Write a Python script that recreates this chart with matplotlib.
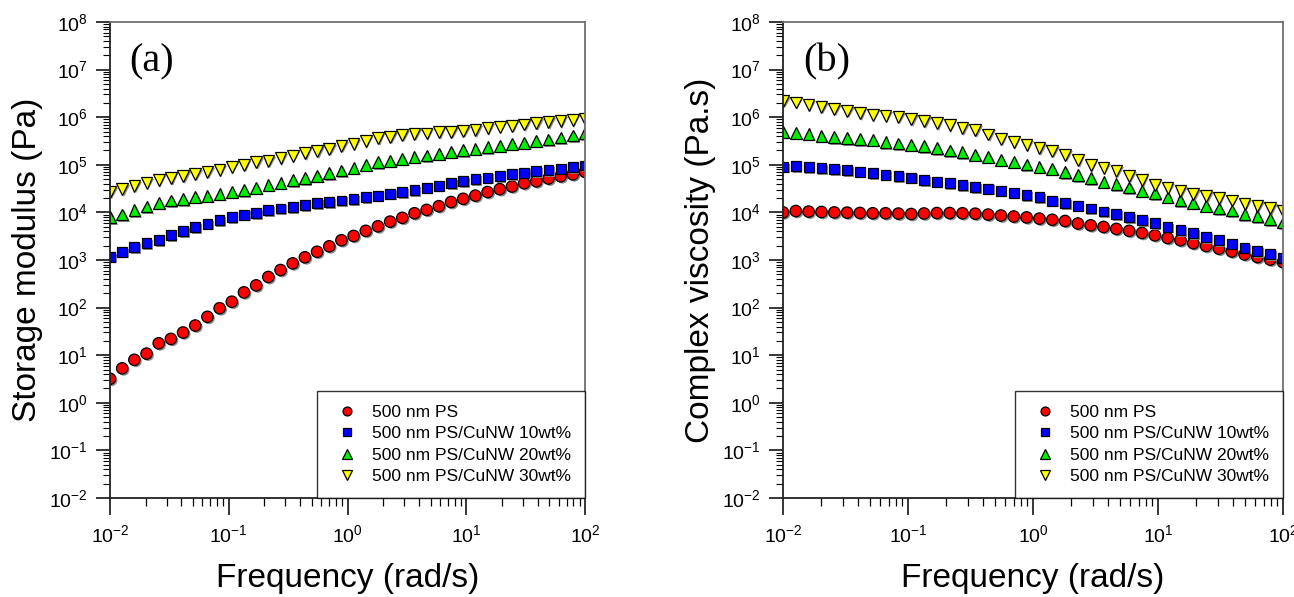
import numpy as np
import matplotlib
matplotlib.use("Agg")
import matplotlib.pyplot as plt
import matplotlib.patheffects as pe
from matplotlib.ticker import LogLocator, LogFormatterMathtext, NullFormatter

plt.rcParams['font.family'] = ['Liberation Sans', 'DejaVu Sans']
plt.rcParams['mathtext.default'] = 'regular'
plt.rcParams['axes.unicode_minus'] = False

# angular frequency (rad/s), 40 points from 0.01 to 100
freq = np.logspace(-2, 2, 40)

labels = ['500 nm PS', '500 nm PS/CuNW 10wt%', '500 nm PS/CuNW 20wt%', '500 nm PS/CuNW 30wt%']

# (a) storage modulus G' (Pa)
g_ps = [3.2, 5.3, 8.0, 10.8, 17.8, 22, 30, 42, 64, 97,
        133, 209, 293, 440, 616, 850, 1140, 1490, 1940, 2600,
        3200, 4100, 5100, 6400, 7700, 9600, 11300, 13500, 16500, 19300,
        22500, 26800, 30800, 35000, 41000, 45000, 51500, 57500, 63000, 71000]
g_10 = [1170, 1490, 1850, 2240, 2630, 3350, 4070, 4930, 5790, 6820,
        7940, 8950, 9570, 11070, 12000, 13000, 14100, 15500, 16300, 17800,
        19100, 20700, 22400, 24400, 26400, 29500, 32600, 36400, 40800, 45000,
        49500, 53600, 58200, 64100, 68300, 73000, 77700, 82800, 90000, 97000]
g_20 = [7900, 9100, 11200, 13200, 16000, 17900, 19000, 21100, 22400, 24400,
        27200, 29100, 33000, 37700, 42100, 47200, 52000, 59000, 66200, 76000,
        86900, 100500, 112800, 121900, 132400, 146000, 158000, 171000, 186000, 202000,
        218000, 233000, 252000, 274000, 291000, 320000, 340000, 375000, 410000, 465000]
g_30 = [27200, 31000, 36400, 42100, 47200, 52000, 57300, 65000, 71600, 78900,
        91200, 100500, 112800, 122000, 137000, 155000, 175000, 192000, 215000, 250000,
        274000, 316000, 360000, 389000, 423000, 444000, 458000, 481000, 495000, 513000,
        537000, 585000, 630000, 662000, 708000, 744000, 781000, 832000, 873000, 904000]

# (b) complex viscosity (Pa.s)
v_ps = [10000, 10700, 10400, 10200, 10000, 9900, 9750, 9600, 9600, 9450,
        9250, 9500, 9700, 9700, 9600, 9400, 9000, 8600, 8200, 7850,
        7400, 7000, 6600, 5850, 5350, 4950, 4500, 4100, 3700, 3300,
        2900, 2600, 2250, 1970, 1730, 1510, 1310, 1150, 1020, 900]
v_10 = [91200, 94400, 90000, 85700, 81700, 76600, 71600, 66200, 62000, 58200,
        53600, 47900, 44200, 40800, 37100, 34200, 31500, 28200, 25600, 22900,
        20800, 17600, 15500, 13800, 12000, 10500, 9100, 7900, 6820, 5900,
        5000, 4270, 3630, 3040, 2590, 2200, 1810, 1540, 1320, 1120]
v_20 = [495000, 466000, 444000, 403000, 378000, 360000, 348000, 332000, 301000, 282000,
        264000, 248000, 225000, 201000, 183000, 161000, 146000, 128000, 116000, 102000,
        91200, 81700, 69500, 61000, 52000, 44200, 38900, 33100, 28200, 25200,
        21400, 18200, 16000, 13800, 12000, 10900, 9250, 8400, 7250, 6170]
v_30 = [2220000, 2020000, 1830000, 1660000, 1490000, 1350000, 1220000, 1130000, 1060000, 1010000,
        916000, 832000, 745000, 676000, 593000, 538000, 430000, 353000, 297000, 261000,
        222000, 198000, 161000, 126000, 97500, 87000, 74100, 58200, 47900, 37700,
        33000, 28600, 24000, 22100, 20100, 17900, 15000, 13800, 12200, 10700]

markers = ['o', 's', '^', 'v']
colors = ['#ff0000', '#0000ff', '#00ee00', '#ffff00']
sizes = [8.2, 7.0, 8.4, 8.4]
shadow = [pe.SimplePatchShadow(offset=(1.2, -1.2), shadow_rgbFace='#8c8c8c', alpha=1.0), pe.Normal()]

fig = plt.figure(figsize=(12.94, 5.97), dpi=100)
ax1 = fig.add_axes([110 / 1294, 1 - 498 / 597, 475 / 1294, 476 / 597])
ax2 = fig.add_axes([783 / 1294, 1 - 498 / 597, 500 / 1294, 476 / 597])


def style_axes(ax, series, ylabel, tag, ylab_x):
    for ys, lab, m, c, s in zip(series, labels, markers, colors, sizes):
        ax.plot(freq, ys, linestyle='none', marker=m, markersize=s, markerfacecolor=c,
                markeredgecolor='black', markeredgewidth=0.9, label=lab, path_effects=shadow)
    ax.set_xscale('log')
    ax.set_yscale('log')
    ax.set_xlim(0.01, 100)
    ax.set_ylim(1e-2, 1e8)
    ax.xaxis.set_major_locator(LogLocator(base=10, numticks=10))
    ax.xaxis.set_minor_locator(LogLocator(base=10, subs=np.arange(2, 10), numticks=20))
    ax.yaxis.set_major_locator(LogLocator(base=10, numticks=20))
    ax.yaxis.set_minor_locator(LogLocator(base=10, subs=np.arange(2, 10), numticks=40))
    ax.xaxis.set_major_formatter(LogFormatterMathtext())
    ax.yaxis.set_major_formatter(LogFormatterMathtext())
    ax.xaxis.set_minor_formatter(NullFormatter())
    ax.yaxis.set_minor_formatter(NullFormatter())
    ax.tick_params(axis='x', which='major', direction='out', length=12, width=1.1, pad=7, labelsize=14)
    ax.tick_params(axis='x', which='minor', direction='out', length=6, width=0.9)
    ax.tick_params(axis='y', which='major', direction='out', length=10, width=1.1, pad=6, labelsize=14)
    ax.tick_params(axis='y', which='minor', direction='out', length=5, width=0.8)
    ax.tick_params(top=False, right=False, which='both')
    for side in ['left', 'bottom']:
        ax.spines[side].set_color('#222222')
        ax.spines[side].set_linewidth(1.3)
    for side in ['top', 'right']:
        ax.spines[side].set_color('#707070')
        ax.spines[side].set_linewidth(1.3)
    ax.set_xlabel('Frequency (rad/s)', fontsize=24, labelpad=12)
    ax.set_ylabel(ylabel, fontsize=24)
    ax.yaxis.set_label_coords(ylab_x, 0.5)
    ax.text(0.04, 0.916, tag, transform=ax.transAxes, fontsize=29, ha='left', va='center',
            family=['Liberation Serif', 'DejaVu Serif'])
    leg = ax.legend(loc='lower right', borderaxespad=0, fontsize=12.5, frameon=True, fancybox=False,
                    edgecolor='black', borderpad=0.8, labelspacing=0.36, handlelength=1.8,
                    handletextpad=0.55, markerscale=0.78)
    leg.get_frame().set_linewidth(1.0)
    for h in leg.legend_handles:
        h.set_path_effects([])


style_axes(ax1, [g_ps, g_10, g_20, g_30], 'Storage modulus (Pa)', '(a)', -0.14)
style_axes(ax2, [v_ps, v_10, v_20, v_30], 'Complex viscosity (Pa.s)', '(b)', -0.134)

fig.savefig('out.png', dpi=100)
